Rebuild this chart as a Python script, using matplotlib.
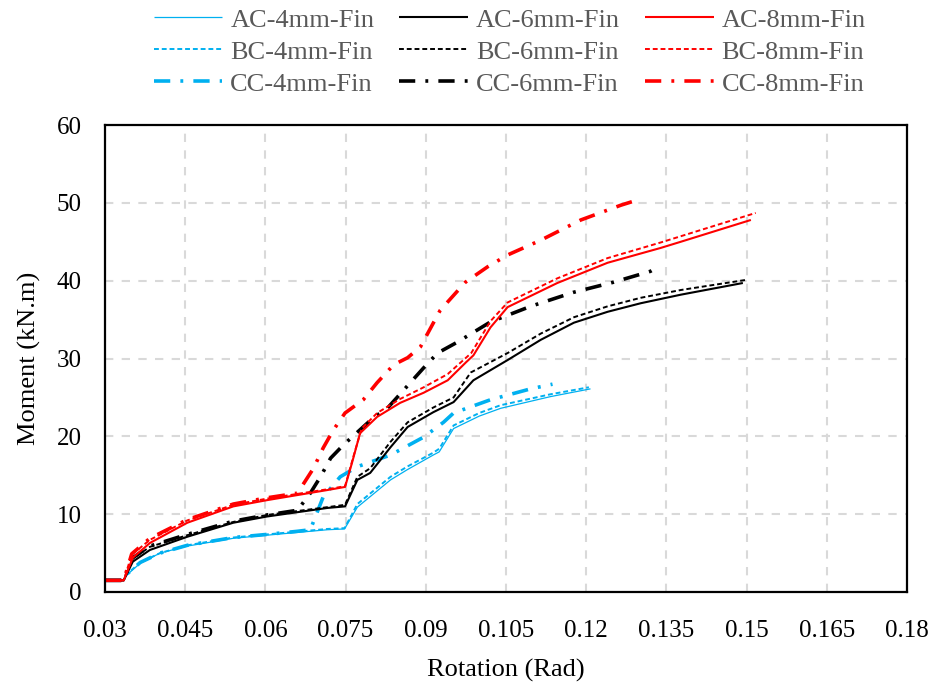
import matplotlib
matplotlib.use("Agg")
import matplotlib.pyplot as plt

# ---------------- data ----------------
ac4_x = [0.03, 0.0335, 0.0341, 0.0366, 0.0403, 0.0454, 0.054, 0.0603, 0.0716, 0.0748, 0.0772, 0.0834, 0.0865, 0.0914, 0.0925, 0.0952, 0.100, 0.104, 0.1133, 0.1208]
ac4_y = [1.5, 1.5, 2.2, 3.7, 5.0, 5.9, 6.9, 7.3, 8.0, 8.1, 10.9, 14.4, 15.7, 17.6, 18.0, 21.0, 22.6, 23.6, 25.1, 26.1]
bc4_x = [0.03, 0.0335, 0.0341, 0.0366, 0.0403, 0.0454, 0.054, 0.0603, 0.0716, 0.0748, 0.0772, 0.0834, 0.0865, 0.0914, 0.0925, 0.0952, 0.100, 0.104, 0.1133, 0.1205]
bc4_y = [1.5, 1.5, 2.3, 3.8, 5.0, 6.0, 7.0, 7.4, 8.1, 8.2, 11.3, 14.8, 16.1, 17.9, 18.4, 21.4, 23.0, 24.0, 25.4, 26.3]
cc4_x = [0.03, 0.0335, 0.0341, 0.0366, 0.0403, 0.0454, 0.054, 0.0603, 0.066, 0.0684, 0.0708, 0.074, 0.0772, 0.0834, 0.0896, 0.0933, 0.0952, 0.1021, 0.1096, 0.1137]
cc4_y = [1.5, 1.5, 2.3, 3.8, 5.0, 6.0, 7.0, 7.4, 7.8, 8.0, 12.2, 14.8, 16.1, 17.6, 19.9, 21.8, 23.0, 24.7, 26.1, 26.7]

ac6_x = [0.03, 0.0335, 0.0352, 0.0384, 0.0454, 0.054, 0.0603, 0.0716, 0.0749, 0.0772, 0.0796, 0.0834, 0.0866, 0.0914, 0.0952, 0.0989, 0.1053, 0.1115, 0.1177, 0.124, 0.1302, 0.1377, 0.1493]
ac6_y = [1.5, 1.5, 3.9, 5.4, 7.1, 8.9, 9.7, 10.8, 11.0, 14.4, 15.3, 18.6, 21.2, 23.1, 24.4, 27.2, 29.8, 32.4, 34.6, 36.0, 37.1, 38.2, 39.7]
bc6_x = [0.03, 0.0335, 0.035, 0.0384, 0.0454, 0.054, 0.0603, 0.0716, 0.0749, 0.0772, 0.0796, 0.0834, 0.0866, 0.0914, 0.0952, 0.0984, 0.1053, 0.1115, 0.1177, 0.124, 0.1302, 0.1377, 0.1499]
bc6_y = [1.5, 1.5, 4.2, 5.8, 7.3, 9.0, 9.9, 10.9, 11.2, 14.8, 15.9, 19.3, 21.8, 23.7, 25.0, 28.2, 30.7, 33.2, 35.3, 36.7, 37.8, 38.8, 40.1]
cc6_x = [0.03, 0.0335, 0.035, 0.0384, 0.0454, 0.054, 0.0603, 0.066, 0.0684, 0.0703, 0.0722, 0.0746, 0.0802, 0.0828, 0.0896, 0.0922, 0.0959, 0.1021, 0.1096, 0.1176, 0.1251, 0.132, 0.133]
cc6_y = [1.5, 1.5, 4.3, 5.9, 7.4, 9.1, 9.9, 10.5, 12.7, 14.8, 17.2, 18.9, 22.4, 23.6, 28.8, 30.7, 32.1, 34.7, 36.7, 38.5, 39.8, 41.2, 41.6]

ac8_x = [0.03, 0.0335, 0.0352, 0.0384, 0.0454, 0.054, 0.0603, 0.0716, 0.0749, 0.0762, 0.0777, 0.0809, 0.0852, 0.0896, 0.0941, 0.0975, 0.0989, 0.1021, 0.1053, 0.1146, 0.124, 0.1339, 0.1377, 0.1508]
ac8_y = [1.5, 1.5, 4.4, 6.3, 8.9, 11.0, 11.8, 13.1, 13.5, 16.6, 20.4, 22.5, 24.3, 25.6, 27.2, 29.5, 30.4, 34.0, 36.6, 39.7, 42.3, 44.2, 45.0, 47.8]
bc8_x = [0.03, 0.0335, 0.035, 0.0384, 0.0454, 0.054, 0.0603, 0.0716, 0.0749, 0.0765, 0.078, 0.0809, 0.0852, 0.0896, 0.0941, 0.0985, 0.1021, 0.1053, 0.1146, 0.124, 0.1339, 0.1517]
bc8_y = [1.5, 1.5, 4.8, 6.7, 9.2, 11.2, 12.0, 13.2, 13.6, 17.5, 21.0, 23.0, 24.8, 26.3, 28.0, 30.7, 34.8, 37.2, 40.3, 42.9, 44.9, 48.7]
cc8_x = [0.03, 0.0335, 0.035, 0.0384, 0.0454, 0.054, 0.0603, 0.066, 0.069, 0.0708, 0.0727, 0.0749, 0.0783, 0.0809, 0.084, 0.0866, 0.089, 0.0912, 0.0927, 0.0974, 0.1016, 0.1053, 0.1115, 0.119, 0.1265, 0.1302]
cc8_y = [1.5, 1.5, 4.9, 6.9, 9.3, 11.3, 12.1, 12.7, 15.9, 18.5, 20.8, 23.0, 24.7, 26.9, 29.2, 30.1, 31.5, 34.3, 36.2, 39.8, 41.8, 43.3, 45.2, 47.8, 49.7, 50.5]

labels = ["AC-4mm-Fin", "BC-4mm-Fin", "CC-4mm-Fin",
          "AC-6mm-Fin", "BC-6mm-Fin", "CC-6mm-Fin",
          "AC-8mm-Fin", "BC-8mm-Fin", "CC-8mm-Fin"]
x_ticks = [0.03, 0.045, 0.06, 0.075, 0.09, 0.105, 0.12, 0.135, 0.15, 0.165, 0.18]
x_tick_labels = ["0.03", "0.045", "0.06", "0.075", "0.09", "0.105", "0.12", "0.135", "0.15", "0.165", "0.18"]
y_ticks = [0, 10, 20, 30, 40, 50, 60]

# ---------------- styling ----------------
plt.rcParams['font.family'] = ['Liberation Serif', 'DejaVu Serif']
BLUE = '#00B0F0'
RED = '#FF0000'
BLACK = '#000000'

fig = plt.figure(figsize=(9.41, 6.91), dpi=100)
ax = fig.add_axes([105/941, 1-592/691, (907-105)/941, (592-125)/691])

solid = '-'
dashed = (0, (2.5, 1.5))
dashdot = (0, (4.5, 2.8, 0.8, 2.8))

series = [
    (ac4_x, ac4_y, BLUE, solid, 0.9),
    (bc4_x, bc4_y, BLUE, dashed, 1.4),
    (cc4_x, cc4_y, BLUE, dashdot, 2.6),
    (ac6_x, ac6_y, BLACK, solid, 1.5),
    (bc6_x, bc6_y, BLACK, dashed, 1.4),
    (cc6_x, cc6_y, BLACK, dashdot, 2.6),
    (ac8_x, ac8_y, RED, solid, 1.5),
    (bc8_x, bc8_y, RED, dashed, 1.4),
    (cc8_x, cc8_y, RED, dashdot, 2.6),
]
handles = []
for (xs, ys, c, ls, lw), lab in zip(series, labels):
    h, = ax.plot(xs, ys, color=c, linestyle=ls, linewidth=lw, label=lab,
                 solid_capstyle='butt', dash_capstyle='butt')
    handles.append(h)

ax.set_xlim(0.03, 0.18)
ax.set_ylim(0, 60)
ax.set_xticks(x_ticks)
ax.set_xticklabels(x_tick_labels)
ax.set_yticks(y_ticks)
ax.grid(True, color='#D9D9D9', linestyle=(0, (4, 4)), linewidth=1.5)
ax.set_axisbelow(True)
for s in ax.spines.values():
    s.set_linewidth(1.6)
    s.set_color('black')
ax.tick_params(length=0, labelsize=18, colors='black')
ax.tick_params(axis='x', pad=20)
ax.tick_params(axis='y', pad=17)

ax.set_xlabel("Rotation (Rad)", fontsize=19, labelpad=12)
ax.set_ylabel("Moment (kN.m)", fontsize=19, labelpad=11)

leg = fig.legend(handles=handles, labels=labels, ncol=3, loc='upper center',
                 bbox_to_anchor=((105+907)/2/941 + 0.004, 1.011), frameon=False,
                 fontsize=19, handlelength=2.6, handletextpad=0.3,
                 columnspacing=0.95, labelspacing=0.32, borderpad=0.1)
for t in leg.get_texts():
    t.set_color('#595959')

fig.savefig("out.png", dpi=100)
